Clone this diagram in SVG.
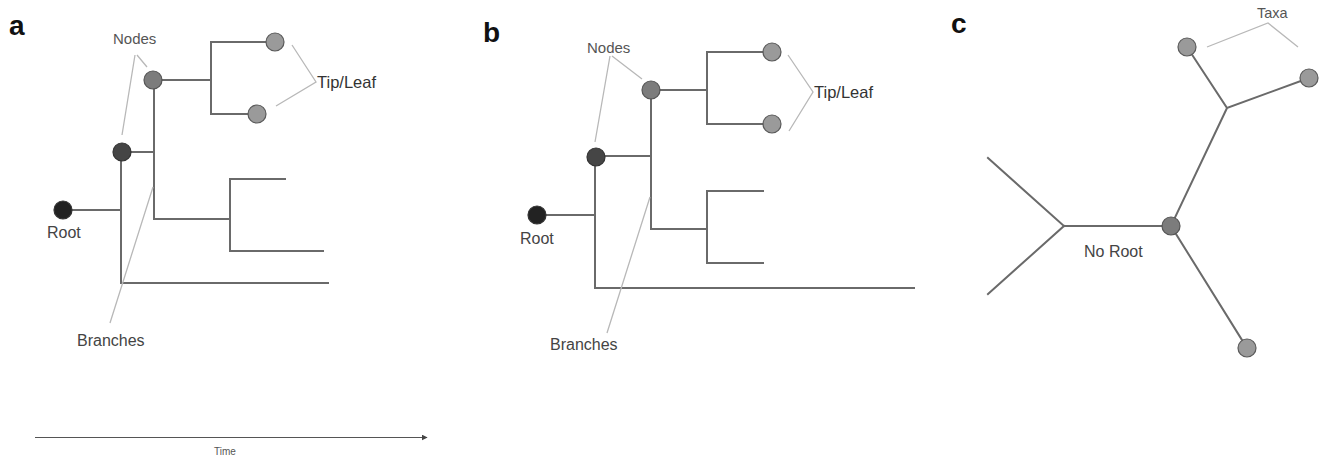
<svg xmlns="http://www.w3.org/2000/svg" width="1321" height="458" viewBox="0 0 1321 458">
<style>
.br{stroke:#6a6a6a;stroke-width:2;fill:none;stroke-linecap:square}
.ld{stroke:#b8b8b8;stroke-width:1.3;fill:none}
.t{font-family:"Liberation Sans",Arial,sans-serif;font-size:16px;fill:#444}
.p{font-family:"Liberation Sans",Arial,sans-serif;font-size:28px;font-weight:bold;fill:#111}
.root{fill:#222;stroke:#333;stroke-width:1.2}
.n1{fill:#454545;stroke:#333;stroke-width:1.2}
.n2{fill:#7c7c7c;stroke:#555;stroke-width:1.2}
.lf{fill:#9a9a9a;stroke:#5a5a5a;stroke-width:1.2}
</style>
<defs>
<marker id="arr" viewBox="0 0 10 10" refX="9" refY="5" markerWidth="6" markerHeight="6" orient="auto" markerUnits="userSpaceOnUse">
<path d="M0,0 L10,5 L0,10 z" fill="#444"/>
</marker>
</defs>
<rect width="1321" height="458" fill="#fff"/>

<g id="connectors">
<!-- panel a branches -->
<path class="br" d="M63,210 H121 M121,152 V283 H328 M122,152 H154 M154,80 V219 H230 M153,80 H211 M211,42 V114 M211,42 H275 M211,114 H257 M230,179 V251 M230,179 H285 M230,251 H323"/>
<!-- panel a leaders -->
<path class="ld" d="M135,55 L122,135 M137,55 L147,67 M292,45 L316,82 L276,106 M110,323 L153,187"/>
<!-- panel b branches -->
<path class="br" d="M537,215 H595 M595,157 V288 H914 M596,156 H651 M651,90 V229 H707 M651,90 H707 M707,52 V124 M707,52 H772 M707,124 H772 M707,191 V263 M707,191 H763 M707,263 H763"/>
<!-- panel b leaders -->
<path class="ld" d="M610,56 L595,142 M612,56 L642,79 M788,55 L813,92 L789,131 M607,333 L650,197"/>
<!-- panel c branches -->
<path class="br" d="M1064,226 H1171 M1064,226 L988,158 M1064,226 L988,294 M1171,226 L1227,108 M1227,108 L1187,47 M1227,108 L1309,78 M1171,226 L1247,348"/>
<!-- panel c leader -->
<path class="ld" d="M1207,47 L1268,23 L1298,47"/>
<!-- time arrow -->
<line x1="35" y1="437.5" x2="427" y2="437.5" stroke="#555" stroke-width="1.2" marker-end="url(#arr)"/>
</g>

<g id="panel-a">
<text class="p" x="9" y="35">a</text>
<g id="a-root"><circle class="root" cx="63" cy="210" r="9"/></g>
<g id="a-node1"><circle class="n1" cx="122" cy="152" r="9"/></g>
<g id="a-node2"><circle class="n2" cx="153" cy="80" r="9"/></g>
<g id="a-leaf1"><circle class="lf" cx="275" cy="42" r="9"/></g>
<g id="a-leaf2"><circle class="lf" cx="257" cy="114" r="9"/></g>
<g id="a-labels">
<text class="t" x="113" y="44" style="font-size:15px;fill:#555">Nodes</text>
<text class="t" x="317" y="88" style="font-size:16.5px;fill:#333">Tip/Leaf</text>
<text class="t" x="47" y="238">Root</text>
<text class="t" x="77" y="346">Branches</text>
</g>
</g>

<g id="panel-b">
<text class="p" x="483" y="42">b</text>
<g id="b-root"><circle class="root" cx="537" cy="215" r="9"/></g>
<g id="b-node1"><circle class="n1" cx="596" cy="157" r="9"/></g>
<g id="b-node2"><circle class="n2" cx="651" cy="90" r="9"/></g>
<g id="b-leaf1"><circle class="lf" cx="772" cy="52" r="9"/></g>
<g id="b-leaf2"><circle class="lf" cx="772" cy="124" r="9"/></g>
<g id="b-labels">
<text class="t" x="587" y="53" style="font-size:15px;fill:#555">Nodes</text>
<text class="t" x="814" y="98" style="font-size:16.5px;fill:#333">Tip/Leaf</text>
<text class="t" x="520" y="244">Root</text>
<text class="t" x="550" y="350">Branches</text>
</g>
</g>

<g id="panel-c">
<text class="p" x="951" y="33">c</text>
<g id="c-center"><circle class="n2" cx="1171" cy="226" r="9"/></g>
<g id="c-leaf1"><circle class="lf" cx="1187" cy="47" r="9"/></g>
<g id="c-leaf2"><circle class="lf" cx="1309" cy="78" r="9"/></g>
<g id="c-leaf3"><circle class="lf" cx="1247" cy="348" r="9"/></g>
<g id="c-labels">
<text class="t" x="1084" y="257">No Root</text>
<text class="t" x="1257" y="18" style="font-size:14.5px;fill:#555">Taxa</text>
</g>
</g>

<g id="time">
<text class="t" x="225" y="455" text-anchor="middle" style="font-size:10px;fill:#555">Time</text>
</g>
</svg>
